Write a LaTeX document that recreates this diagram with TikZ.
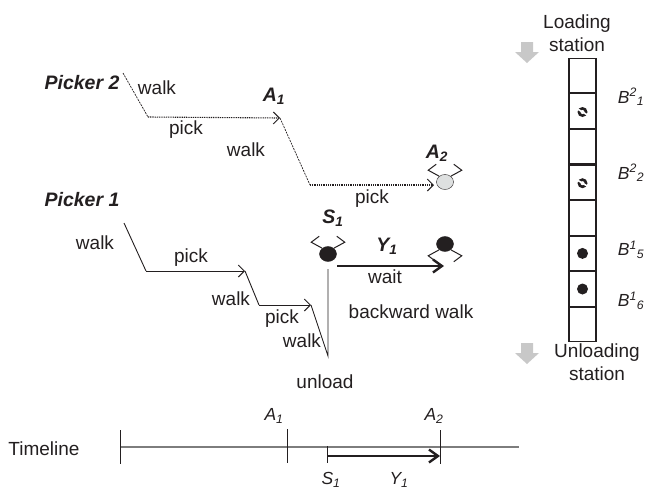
\documentclass[tikz,border=0pt]{standalone}
\usepackage{fontspec}
\setmainfont{Liberation Sans}
\usepackage{tikz}
\usetikzlibrary{arrows.meta}
\usetikzlibrary{matrix, positioning, shapes.geometric}
\usetikzlibrary{calc}
\definecolor{tinta}{RGB}{35, 31, 32}
\definecolor{gris}{RGB}{200, 200, 200}
\definecolor{suave}{RGB}{222, 224, 224}
\definecolor{linea}{RGB}{125, 125, 125}
\tikzset{
    lbl/.style={font=\fontsize{19}{23}\selectfont, text=tinta, inner sep=0pt},
    ital/.style={lbl, font=\fontsize{17.5}{21}\selectfont\itshape},
    bold/.style={lbl, font=\fontsize{19.5}{23}\selectfont\bfseries\itshape},
    barb/.style={-{Straight Barb[length=6pt,width=12pt,line width=1pt]}},
    thickbarb/.style={-{Straight Barb[length=9pt,width=13pt,line width=2.4pt]}},
    walkline/.style={tinta, line width=0.9pt},
    walkdash/.style={tinta, line width=0.7pt, dash pattern=on 2pt off 1pt},
    pickdot/.style={tinta, line width=1.1pt, dash pattern=on 1pt off 0.8pt},
    arms/.style={tinta, line width=1pt},
    person/.style={ellipse, draw=tinta, fill=tinta, minimum width=17pt, minimum height=15pt, inner sep=0pt},
    ball/.style={circle, fill=tinta, minimum size=11pt, inner sep=0pt},
    tick/.style={tinta, line width=0.7pt},
    grayarrow/.style={gris, fill=gris}
}
\begin{document}
\begin{tikzpicture}[x=1pt, y=-1pt]
    \useasboundingbox (0,0) rectangle (646,491);

    % Picker 2 path
    \coordinate (p2a) at (123,73);
    \coordinate (p2b) at (148,117);
    \coordinate (p2c) at (280,118);
    \coordinate (p2d) at (310,185);
    \coordinate (p2e) at (434,185);
    \draw[walkdash] (p2a) -- (p2b);
    \draw[pickdot, barb] (p2b) -- (p2c);
    \draw[walkdash] (p2c) -- (p2d);
    \draw[pickdot, barb] (p2d) -- (p2e);

    % Picker 1 path
    \coordinate (p1a) at (124,223);
    \coordinate (p1b) at (146,271);
    \coordinate (p1c) at (245,271);
    \coordinate (p1d) at (259,305);
    \coordinate (p1e) at (311,305);
    \coordinate (p1f) at (328,356);
    \coordinate (p1g) at (328,269);
    \draw[walkline] (p1a) -- (p1b);
    \draw[walkline, barb] (p1b) -- (p1c);
    \draw[walkline] (p1c) -- (p1d);
    \draw[walkline, barb] (p1d) -- (p1e);
    \draw[walkline] (p1e) -- (p1f) -- (p1g);

    % Pickers
    \node[person, fill=suave] (a2) at (445,182) {};
    \node[person] (s1) at (328,254) {};
    \node[person] (y1) at (445,244) {};
    \draw[arms] (a2.135) -- ++(-11,-6) -- ++(8,-6);
    \draw[arms] (a2.45) -- ++(11,-6) -- ++(-8,-6);
    \draw[arms] (s1.135) -- ++(-11,-6) -- ++(8,-6);
    \draw[arms] (s1.45) -- ++(11,-6) -- ++(-8,-6);
    \draw[arms] (y1.-135) -- ++(-11,6) -- ++(8,6);
    \draw[arms] (y1.-45) -- ++(11,6) -- ++(-8,6);
    \coordinate (wt) at (337,266);
    \coordinate (we) at (444,266);
    \draw[thickbarb, tinta, line width=2.8pt] (wt) -- (we);

    % Labels
    \node[bold] (pk2) at (82,83) {Picker 2};
    \node[bold] (pk1) at (82,200) {Picker 1};
    \node[lbl] (w1) at (157,88) {walk};
    \node[lbl] (k1) at (186,130) {pick};
    \node[lbl] (w2) at (246,150) {walk};
    \node[lbl] (k2) at (372,199) {pick};
    \node[lbl] (w3) at (95,243) {walk};
    \node[lbl] (k3) at (191,258) {pick};
    \node[lbl] (w4) at (231,299) {walk};
    \node[lbl] (k4) at (282,319) {pick};
    \node[lbl] (w5) at (302,341) {walk};
    \node[lbl] (ul) at (325,382) {unload};
    \node[lbl] (wt1) at (385,277) {wait};
    \node[lbl] (bw) at (411,312) {backward walk};
    \node[bold] (la1) at (274,96) {A\textsubscript{1}};
    \node[bold] (la2) at (437,153) {A\textsubscript{2}};
    \node[bold] (ls1) at (333,218) {S\textsubscript{1}};
    \node[bold] (ly1) at (387,246) {Y\textsubscript{1}};

    % Buffer lane
    \matrix[matrix of nodes, nodes={draw=tinta, line width=1.1pt, minimum width=27pt, minimum height=34.5pt, anchor=center, inner sep=0pt, outer sep=0pt}, row sep=0pt] (lane) at (582.5,200) {
        {} \\ {} \\ {} \\ {} \\ {} \\ {} \\ {} \\ {} \\
    };
    \foreach \r in {2,4} {
        \node[ball, minimum size=10pt] (sw\r) at ($(lane-\r-1)+(0,1)$) {};
        \draw[white, line width=1.7pt] ($(sw\r)+(-5,-3)$) -- ($(sw\r)+(5,3)$);
        \fill[white] (sw\r) circle (2pt);
    }
    \foreach \r in {6,7} {
        \node[ball] (bl\r) at (lane-\r-1) {};
    }
    \node[ital] (b21) at (631,97) {B\textsuperscript{2}\textsubscript{1}};
    \node[ital] (b22) at (631,173) {B\textsuperscript{2}\textsubscript{2}};
    \node[ital] (b15) at (631,250) {B\textsuperscript{1}\textsubscript{5}};
    \node[ital] (b16) at (631,301) {B\textsuperscript{1}\textsubscript{6}};

    % Stations
    \node[lbl, align=center] (load) at (577,33) {Loading\\station};
    \node[lbl, align=center] (unload) at (597,362) {Unloading\\station};
    \foreach \y in {42,343} {
        \fill[grayarrow] (521,\y) -- (533,\y) -- (533,\y+10) -- (539,\y+10) -- (527,\y+21) -- (515,\y+10) -- (521,\y+10) -- cycle;
    }

    % Timeline
    \node[lbl] (tl) at (44,449) {Timeline};
    \coordinate (t0) at (120,447);
    \coordinate (t1) at (519,447);
    \draw[linea, line width=1.1pt] (t0) -- (t1);
    \draw[tick] (120,430) -- (120,464);
    \draw[tick] (287,429) -- (287,463);
    \draw[tick] (327,446) -- (327,463);
    \draw[tick] (440,430) -- (440,464);
    \coordinate (ts) at (327,456);
    \coordinate (te) at (440,456);
    \draw[thickbarb, tinta, line width=2.6pt] (ts) -- (te);
    \node[ital] (ta1) at (274,416) {A\textsubscript{1}};
    \node[ital] (ta2) at (434,416) {A\textsubscript{2}};
    \node[ital] (ts1) at (331,480) {S\textsubscript{1}};
    \node[ital] (ty1) at (399,480) {Y\textsubscript{1}};
\end{tikzpicture}
\end{document}
